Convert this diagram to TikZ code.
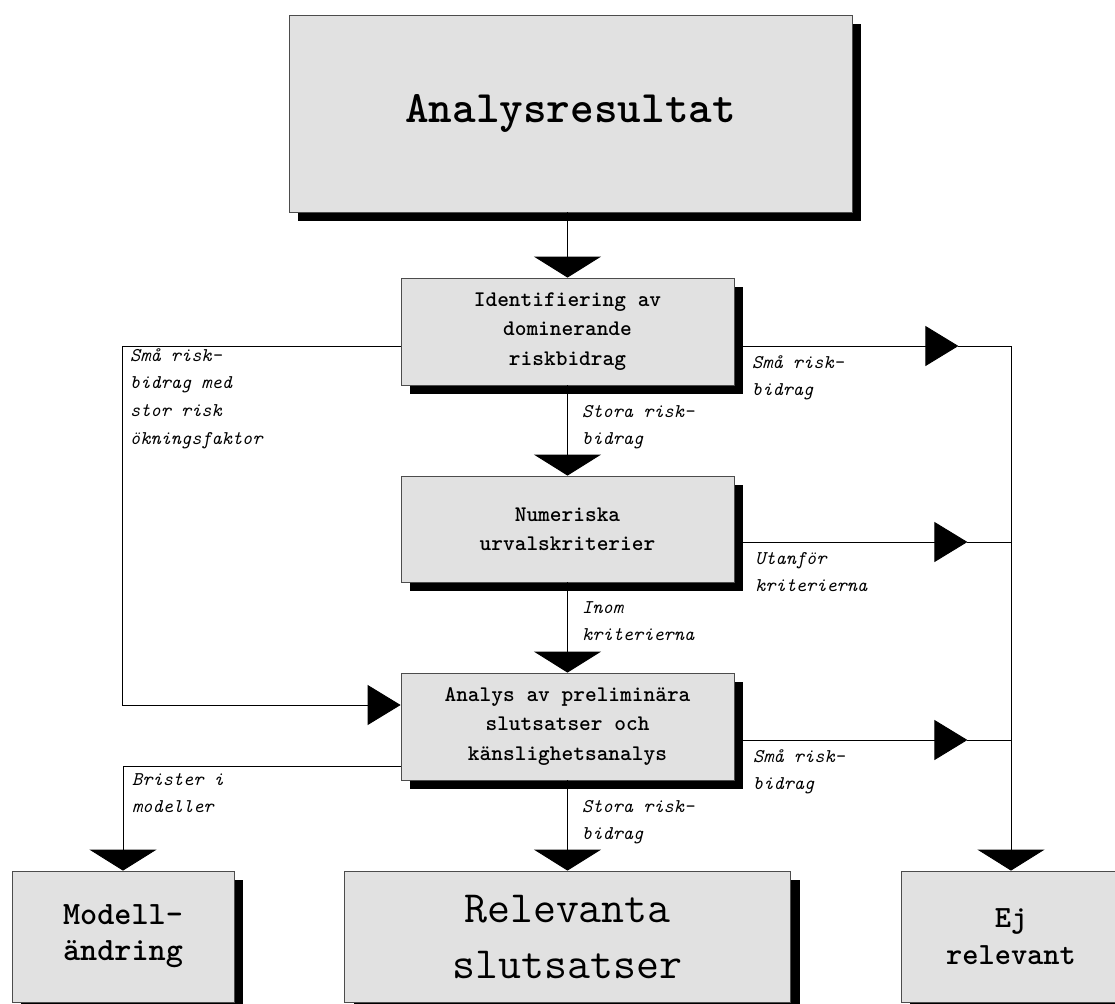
\documentclass[tikz,border=0pt]{standalone}
\usetikzlibrary{arrows.meta}
\usetikzlibrary{shadows}
\definecolor{boxgray}{RGB}{225,225,225}
\tikzset{box/.style = {draw=black!70, fill=boxgray, line width=0.8pt, inner sep=0, align=center,
                       drop shadow={shadow xshift=9pt, shadow yshift=-9pt, fill=black, opacity=1}}}
\tikzset{flow/.style = {line width=0.9pt}}
\tikzset{downtip/.style = {-{Triangle[width=67pt, length=21pt]}}}
\tikzset{sidetip/.style = {-{Triangle[width=40pt, length=33pt]}}}
\tikzset{lbl/.style = {anchor=north west, inner sep=0, align=left,
                       font=\ttfamily\fontsize{19.4}{27.7}\selectfont\itshape}}
\newcommand{\stepfont}{\ttfamily\fontsize{22.3}{29.5}\selectfont\bfseries}

\begin{document}
\begin{tikzpicture}[x=1pt, y=-1pt]
  \useasboundingbox (0,0) rectangle (1115,1003);
  \clip (0,0) rectangle (1115,1003);

  % boxes
  \node [box, minimum width=563pt, minimum height=197pt,
         font=\ttfamily\fontsize{45}{50}\selectfont\bfseries] (res) at (570.5, 113.5) {Analysresultat};
  \node [box, minimum width=333pt, minimum height=107pt, font=\stepfont] (ident) at (567.5, 331.5)
        {Identifiering av\\dominerande\\riskbidrag};
  \node [box, minimum width=333pt, minimum height=106pt, font=\stepfont] (num) at (567.5, 529)
        {Numeriska\\urvalskriterier};
  \node [box, minimum width=333pt, minimum height=107pt, font=\stepfont] (anal) at (567.5, 726.5)
        {Analys av preliminära\\slutsatser och\\känslighetsanalys};
  \node [box, minimum width=222pt, minimum height=131pt,
         font=\ttfamily\fontsize{32.6}{36}\selectfont\bfseries] (modell) at (123, 936.5) {Modell-\\ändring};
  \node [box, minimum width=446pt, minimum height=131pt,
         font=\ttfamily\fontsize{44.6}{56}\selectfont] (rel) at (567.5, 936.5) {Relevanta\\slutsatser};
  \node [box, minimum width=220pt, minimum height=131pt,
         font=\ttfamily\fontsize{30.9}{37}\selectfont\bfseries] (ej) at (1011, 936.5) {Ej\\relevant};

  % main chain
  \draw [flow, downtip] (ident.north |- res.south) -- (ident.north);
  \draw [flow, downtip] (ident.south) -- (num.north);
  \draw [flow, downtip] (num.south) -- (anal.north);
  \draw [flow, downtip] (anal.south) -- (rel.north);

  % left side
  \draw [flow, sidetip] ([yshift=-14.5pt]ident.west) -- ++(-278,0) |- ([yshift=21.5pt]anal.west);
  \draw [flow, downtip] ([yshift=-39.5pt]anal.west) -| (modell.north);

  % right side
  \draw [flow, sidetip] ([xshift=9pt, yshift=-14.5pt]ident.east) -- ++(215,0) coordinate (tipA);
  \draw [flow, downtip] (tipA) -| (ej.north);
  \draw [flow, sidetip] ([xshift=9pt, yshift=-13pt]num.east) -- ++(224,0) coordinate (tipB);
  \draw [flow] (tipB) -- (tipB -| ej.north);
  \draw [flow, sidetip] ([xshift=9pt, yshift=-13.5pt]anal.east) -- ++(224,0) coordinate (tipC);
  \draw [flow] (tipC) -- (tipC -| ej.north);

  % labels
  \node [lbl] (smaleft) at (130, 348) {Små risk-\\bidrag med\\stor risk\\ökningsfaktor};
  \node [lbl] (storaA) at (582, 405) {Stora risk-\\bidrag};
  \node [lbl] (inom) at (582, 601) {Inom\\kriterierna};
  \node [lbl] (storaB) at (582, 800) {Stora risk-\\bidrag};
  \node [lbl] (smaA) at (752, 355) {Små risk-\\bidrag};
  \node [lbl] (utanfor) at (755, 552) {Utanför\\kriterierna};
  \node [lbl] (smaB) at (753, 749) {Små risk-\\bidrag};
  \node [lbl] (brister) at (132, 773) {Brister i\\modeller};
\end{tikzpicture}
\end{document}
